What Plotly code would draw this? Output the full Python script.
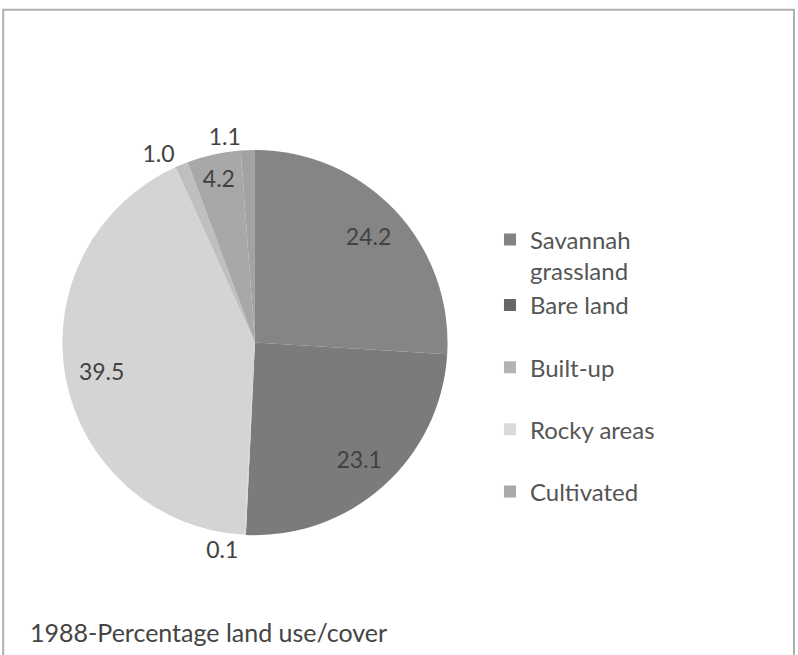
import plotly.graph_objects as go

# Slice data (clockwise from 12 o'clock)
slice_names = ["Savannah grassland", "Bare land", "Rocky areas (a)", "Rocky areas",
               "Built-up", "Cultivated", "Other"]
slice_values = [24.2, 23.1, 0.1, 39.5, 1.0, 4.2, 1.1]
slice_colors = ["#858585", "#7b7b7b", "#d6d6d6", "#d4d4d4", "#bfbfbf", "#a8a8a8", "#a2a2a2"]
slice_textpos = ["inside", "inside", "outside", "inside", "outside", "inside", "outside"]
# labels handled on a separate text layer (avoids label collision shifting)
separate_layer = [False, False, False, False, False, False, True]

# Legend entries
legend_names = ["Savannah<br>grassland", "Bare land", "Built-up", "Rocky areas", "Cultivated"]
legend_colors = ["#828282", "#666666", "#b3b3b3", "#dadada", "#a9a9a9"]
legend_groups = ["a", "a", "b", "c", "d"]

title_text = "1988-Percentage land use/cover"

FONT = "Lato, 'Open Sans', sans-serif"
DOMAIN = dict(x=[0.078, 0.561], y=[0.183, 0.771])
LABEL_FONT = dict(family=FONT, size=23, color="#424242")

fig = go.Figure()
# filled pie (no text)
fig.add_trace(go.Pie(
    labels=slice_names,
    values=slice_values,
    textinfo="none",
    sort=False,
    direction="clockwise",
    rotation=0,
    marker=dict(colors=slice_colors, line=dict(width=0)),
    showlegend=False,
    domain=DOMAIN,
    hoverinfo="label+value",
))


def text_layer(use_sep):
    txt = [f"{v:.1f}" if s == use_sep else "" for v, s in zip(slice_values, separate_layer)]
    pos = [p if s == use_sep else "none" for p, s in zip(slice_textpos, separate_layer)]
    return go.Pie(
        labels=slice_names,
        values=slice_values,
        hole=0.62,
        text=txt,
        textinfo="text",
        textposition=pos,
        insidetextorientation="horizontal",
        sort=False,
        direction="clockwise",
        rotation=0,
        marker=dict(colors=["rgba(0,0,0,0)"] * len(slice_values), line=dict(width=0)),
        textfont=LABEL_FONT,
        insidetextfont=LABEL_FONT,
        outsidetextfont=LABEL_FONT,
        showlegend=False,
        domain=DOMAIN,
        hoverinfo="skip",
    )


fig.add_trace(text_layer(False))
fig.add_trace(text_layer(True))

for n, c, g in zip(legend_names, legend_colors, legend_groups):
    fig.add_trace(go.Scatter(
        x=[None], y=[None], mode="markers", name=n,
        marker=dict(symbol="square", size=12, color=c),
        legendgroup=g, showlegend=True,
    ))

fig.add_annotation(
    text=title_text, xref="paper", yref="paper", x=0.035, y=0.035,
    xanchor="left", yanchor="middle", showarrow=False,
    font=dict(family=FONT, size=25, color="#444444"),
)

fig.add_shape(type="rect", xref="paper", yref="paper",
              x0=0.004, x1=0.995, y0=-0.05, y1=0.985,
              line=dict(color="#b0b0b0", width=2))

fig.update_layout(
    width=798, height=655,
    margin=dict(l=0, r=0, t=0, b=0),
    paper_bgcolor="white", plot_bgcolor="white",
    xaxis=dict(visible=False), yaxis=dict(visible=False),
    legend=dict(x=0.614, y=0.668, xanchor="left", yanchor="top",
                font=dict(family=FONT, size=24, color="#555555"),
                tracegroupgap=28, itemsizing="constant", valign="top",
                bgcolor="rgba(0,0,0,0)"),
)

fig.write_html("out.html")
